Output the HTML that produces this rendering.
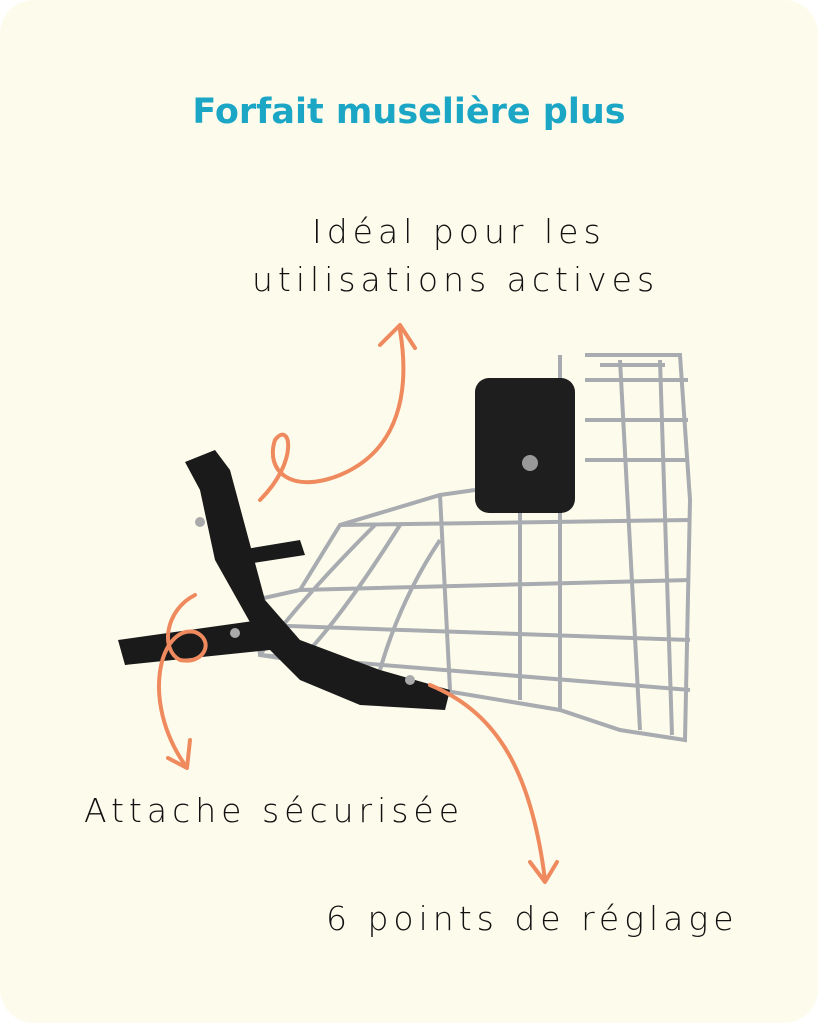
<!DOCTYPE html>
<html><head><meta charset="utf-8"><style>
html,body{margin:0;padding:0;background:#fff;}
.c{position:relative;width:818px;height:1023px;background:#fdfcec;border-radius:34px;overflow:hidden;font-family:"DejaVu Sans","Liberation Sans",sans-serif;}
.t{position:absolute;left:0;width:818px;text-align:center;top:92px;font-size:35px;font-weight:bold;color:#1ba6c6;}
.l{position:absolute;font-size:33px;color:#111;letter-spacing:5px;white-space:nowrap;font-weight:300;}
</style></head><body><div class="c">
<div class="t">Forfait muselière plus</div>
<div class="l" style="left:312px;top:212px;">Idéal pour les</div>
<div class="l" style="left:252px;top:260px;">utilisations actives</div>
<div class="l" style="left:84px;top:791px;">Attache sécurisée</div>
<div class="l" style="left:326px;top:899px;">6 points de réglage</div>
<svg width="818" height="1023" style="position:absolute;left:0;top:0">
<g fill="none" stroke="#a8acb0" stroke-width="4">
<path d="M585 355 L680 355 L690 500 L685 740 L620 730 L560 710 L440 690 L360 670 L260 655 L255 600 L300 590 L340 525 L440 495 L475 490"/>
<path d="M600 365 L665 365 M560 355 L560 710 M620 360 L640 730 M660 360 L672 735 M585 380 L688 380 M585 420 L688 420 M585 460 L688 460"/>
<path d="M340 525 L690 520 M300 590 L690 580 M260 625 L690 640 M260 655 L690 690 M440 495 L450 690 M520 490 L520 700 M375 525 Q300 600 260 655 M400 525 Q340 620 300 660 M440 540 Q400 600 380 670"/>
</g>
<rect x="475" y="378" width="100" height="135" rx="14" fill="#1e1e1e"/>
<circle cx="530" cy="463" r="8" fill="#999"/>
<g fill="#1a1a1a">
<path d="M185 462 L215 450 L230 470 L265 600 L300 640 L380 670 L450 690 L445 710 L360 705 L300 680 L260 640 L215 560 L200 490 Z"/>
<path d="M118 640 L260 620 L270 650 L125 665 Z"/>
<path d="M240 550 L300 540 L305 555 L240 565 Z"/>
</g>
<circle cx="410" cy="680" r="5" fill="#aaa"/><circle cx="235" cy="633" r="5" fill="#aaa"/><circle cx="200" cy="522" r="5" fill="#aaa"/>
<g fill="none" stroke="#ef8a5e" stroke-width="4" stroke-linecap="round" stroke-linejoin="round">
<path d="M260 500 C300 460 290 420 275 440 C265 470 290 495 340 475 C400 450 410 390 400 330"/>
<path d="M380 345 L400 325 L415 348"/>
<path d="M195 595 C165 610 160 650 180 660 C205 665 215 640 195 632 C160 625 140 700 185 765"/>
<path d="M168 758 L187 768 L190 740"/>
<path d="M430 685 C490 710 530 760 545 880"/>
<path d="M530 862 L545 882 L557 862"/>
</g>
</svg>
</div></body></html>
